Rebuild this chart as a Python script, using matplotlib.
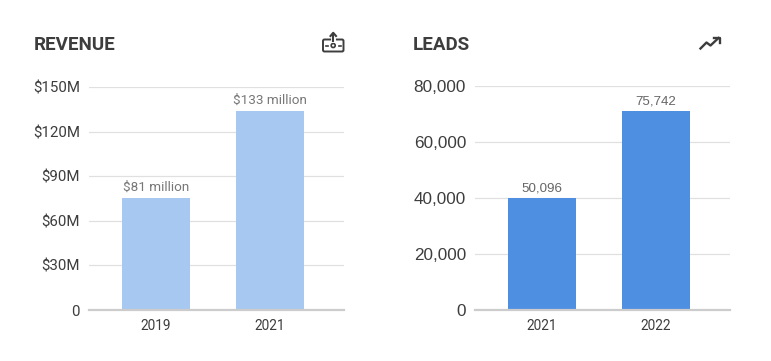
import matplotlib
matplotlib.use('Agg')
import matplotlib.pyplot as plt
from matplotlib.patches import FancyBboxPatch, Circle

W, H = 771, 361

rev_years = ['2019', '2021']
rev_heights = [75.5, 134]
rev_labels = ['$81 million', '$133 million']
rev_ticks = [0, 30, 60, 90, 120, 150]
rev_ticklabels = ['0', '$30M', '$60M', '$90M', '$120M', '$150M']

leads_years = ['2021', '2022']
leads_heights = [40000, 71000]
leads_labels = ['50,096', '75,742']
leads_ticks = [0, 20000, 40000, 60000, 80000]
leads_ticklabels = ['0', '20,000', '40,000', '60,000', '80,000']

plt.rcParams['font.family'] = ['Roboto', 'DejaVu Sans']
dark = '#3d3d3d'


def panel(left, top, years, heights, labels, ticks, ticklabels, color, ymax, title, title_x,
          tick_font, tick_size, label_font, label_size, label_weight, label_color):
    bottom = 310
    ax = fig.add_axes([left / W, 1 - bottom / H, 255 / W, (bottom - top) / H])
    ax.bar([0, 1], heights, width=0.596, color=color, zorder=3)
    ax.set_xlim(-0.588, 1.649)
    ax.set_ylim(0, ymax)
    ax.set_xticks([0, 1])
    ax.set_xticklabels(years, fontsize=9.8, color=dark)
    ax.set_yticks(ticks)
    ax.set_yticklabels(ticklabels, fontsize=tick_size, color=dark, family=tick_font)
    ax.tick_params(axis='both', length=0)
    ax.tick_params(axis='x', pad=6.5)
    ax.tick_params(axis='y', pad=6.4)
    ax.grid(axis='y', color='#e0e0e0', lw=0.9, zorder=0)
    for s in ['top', 'left', 'right']:
        ax.spines[s].set_visible(False)
    ax.spines['bottom'].set_color('#cccccc')
    ax.spines['bottom'].set_linewidth(1.6)
    ax.spines['bottom'].set_zorder(4)
    for i in range(len(heights)):
        ax.annotate(labels[i], (i, heights[i]), xytext=(0, 2.6), textcoords='offset points',
                    ha='center', va='bottom', fontsize=label_size, color=label_color,
                    family=label_font, fontweight=label_weight, clip_on=False)
    fig.text(title_x / W, 1 - 44.5 / H, title, fontsize=13.5, fontweight='bold', color=dark,
             va='center', ha='left')
    return ax


fig = plt.figure(figsize=(W / 100, H / 100), dpi=100)

panel(89, 87, rev_years, rev_heights, rev_labels, rev_ticks, rev_ticklabels,
      '#a6c8f1', 150, 'REVENUE', 34, 'Roboto', 10.8, 'Roboto', 9.7, 'normal', '#777777')
panel(475, 85.5, leads_years, leads_heights, leads_labels, leads_ticks, leads_ticklabels,
      '#4f8fe2', 80000, 'LEADS', 413, 'Liberation Sans', 12.3, 'Liberation Sans', 9.6, 'normal', '#666666')

# overlay in pixel coordinates for the two small icons
ov = fig.add_axes([0, 0, 1, 1], zorder=10)
ov.set_xlim(0, W)
ov.set_ylim(H, 0)
ov.axis('off')

# money icon
ov.add_patch(FancyBboxPatch((323, 39.5), 20.5, 12, boxstyle='round,pad=0,rounding_size=1.5',
                            fc='none', ec=dark, lw=1.4))
ov.add_patch(Circle((333.2, 45.5), 2, fc='none', ec=dark, lw=1.2))
ov.plot([326, 327.5], [45.5, 45.5], color=dark, lw=1.2)
ov.plot([339, 340.5], [45.5, 45.5], color=dark, lw=1.2)
ov.plot([333.2, 333.2], [40, 33.5], color='white', lw=3.5)
ov.plot([333.2, 333.2], [41, 34], color=dark, lw=1.5)
ov.plot([330.5, 333.2, 336], [36, 32.8, 36], color=dark, lw=1.5)

# trending icon
ov.plot([700.5, 706.5, 710.5, 718.5], [48.5, 42.5, 45.5, 38], color=dark, lw=1.7)
ov.plot([713.5, 719.5, 719.5], [37.5, 37.5, 43], color=dark, lw=1.7)

fig.savefig('out.png', dpi=100)
